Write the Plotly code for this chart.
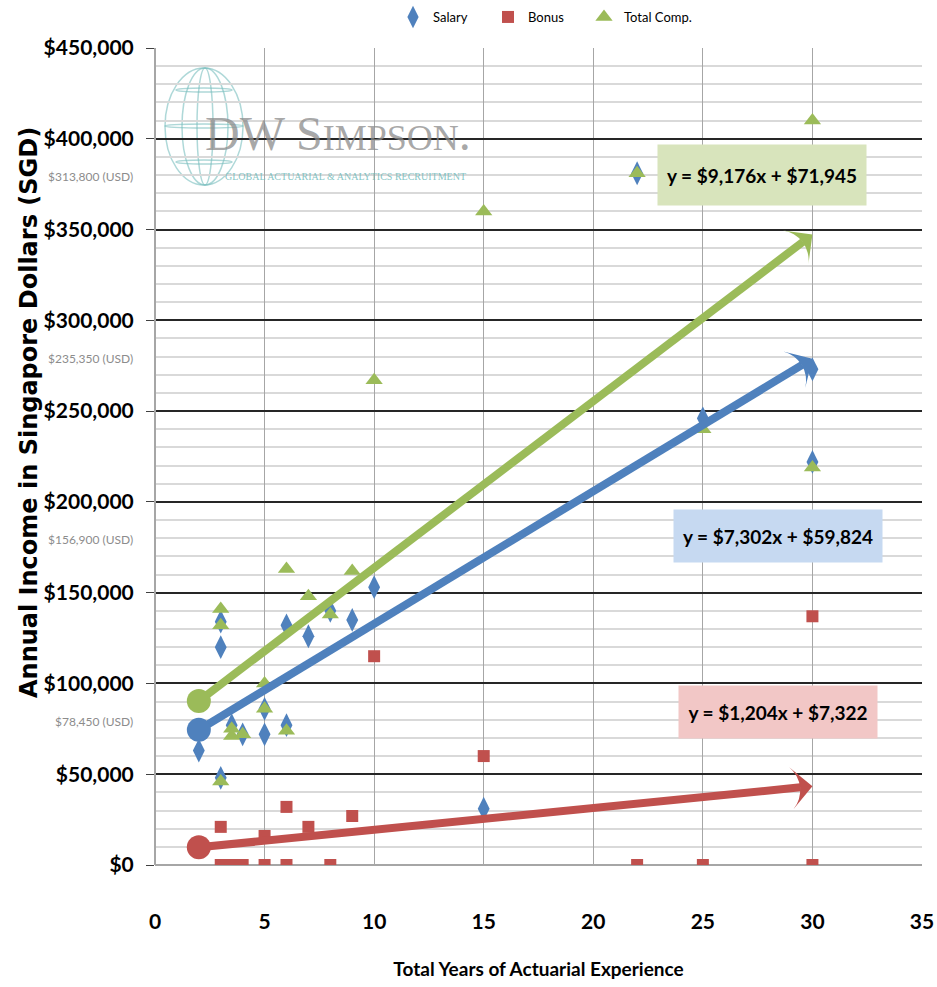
import plotly.graph_objects as go

# --- data ---
salary_x = [2, 3, 3, 3, 3.5, 4, 5, 5, 6, 6, 7, 8, 9, 10, 15, 22, 25, 30, 30]
salary_y = [63000, 134000, 120000, 48000, 77000, 72000, 72000, 86000, 132000, 77000,
            126000, 140000, 135000, 153000, 31000, 381000, 246000, 273000, 222000]

bonus_x = [3, 3, 3.5, 4, 5, 5, 6, 6, 7, 8, 9, 10, 15, 22, 25, 30, 30]
bonus_y = [21000, 0, 0, 0, 16000, 0, 32000, 0, 21000, 0, 27000, 115000, 60000,
           0, 0, 137000, 0]

total_x = [3, 3, 3, 3.5, 3.5, 4, 5, 5, 6, 6, 7, 8, 9, 10, 15, 22, 25, 30, 30]
total_y = [141000, 132000, 46000, 75000, 71000, 72000, 100000, 86000, 163000, 74000,
           148000, 138000, 162000, 267000, 360000, 381000, 240000, 410000, 219000]

# linear trend lines (slope, intercept) as printed on the chart
trend_slope = [7302, 1204, 9176]
trend_intercept = [59824, 7322, 71945]
trend_span = [2, 30]

usd_ticks = [400000, 300000, 200000, 100000]
usd_labels = ['$313,800 (USD)', '$235,350 (USD)', '$156,900 (USD)', '$78,450 (USD)']

BLUE = '#4F81BD'
RED = '#C0504D'
GREEN = '#9BBB59'
FONT = 'Lato, Roboto, sans-serif'

W, H = 937, 987
L, R, T, B = 155, 15, 48, 122


def px_x(p):
    return (p - L) / (W - L - R)


def px_y(p):
    return (H - B - p) / (H - T - B)


fig = go.Figure()

fig.add_trace(go.Scatter(
    x=salary_x, y=salary_y, mode='markers', name='Salary', legend='legend',
    marker=dict(symbol='diamond-tall', size=17, color=BLUE),
))
fig.add_trace(go.Scatter(
    x=bonus_x, y=bonus_y, mode='markers', name='Bonus', legend='legend2',
    marker=dict(symbol='square', size=12, color=RED),
))
fig.add_trace(go.Scatter(
    x=total_x, y=total_y, mode='markers', name='Total Comp.', legend='legend3',
    marker=dict(symbol='triangle-up', size=15, color=GREEN),
))

# trend arrows: dot at the start, arrow head at the end
for color, m, c in zip([BLUE, RED, GREEN], trend_slope, trend_intercept):
    ys = [m * x + c for x in trend_span]
    fig.add_trace(go.Scatter(
        x=trend_span, y=ys, mode='lines+markers', showlegend=False,
        hoverinfo='skip',
        line=dict(color=color, width=8),
        marker=dict(symbol='arrow-wide', size=[0, 30], color=color, opacity=1,
                    line=dict(width=0), angleref='previous'),
    ))
    fig.add_trace(go.Scatter(
        x=trend_span[:1], y=ys[:1], mode='markers', showlegend=False,
        hoverinfo='skip',
        marker=dict(symbol='circle', size=24, color=color),
    ))

# equation boxes
eq_pos = [(28.45, 181000, 200, 44, '#C6D9F1'),
          (28.45, 84000, 190, 44, '#F2C7C6'),
          (27.7, 380000, 200, 52, '#D8E4BC')]
for (ex, ey, bw, bh, bg), m, c in zip(eq_pos, trend_slope, trend_intercept):
    fig.add_annotation(
        x=ex, y=ey, xref='x', yref='y', showarrow=False,
        width=bw, height=bh, align='center', valign='middle',
        text=f'y = ${m:,}x + ${c:,}', bgcolor=bg, borderpad=4,
        font=dict(family=FONT, size=19, color='black', weight='bold'),
    )

# USD equivalents under some of the tick labels
for v, lab in zip(usd_ticks, usd_labels):
    fig.add_annotation(
        x=0, y=v, xref='paper', yref='y', xanchor='right', yanchor='middle',
        xshift=-20, yshift=-38, showarrow=False, text=lab,
        font=dict(family=FONT, size=12, color='#8C8C8C'),
    )

# y axis title
fig.add_annotation(
    x=px_x(29), y=px_y(413), xref='paper', yref='paper', showarrow=False,
    xanchor='center', yanchor='middle',
    textangle=-90, text='Annual Income in Singapore Dollars (SGD)',
    font=dict(family='DejaVu Sans', size=24, color='black', weight='bold'),
)

# DW Simpson watermark
fig.add_annotation(
    x=px_x(338), y=px_y(162), xref='paper', yref='paper', showarrow=False,
    xanchor='center', yanchor='bottom',
    text="DW S<span style='font-size:36px'>IMPSON</span>.",
    font=dict(family='Liberation Serif, DejaVu Serif, serif', size=48,
              color='rgba(140,140,140,0.75)'),
)
fig.add_annotation(
    x=px_x(345), y=px_y(176), xref='paper', yref='paper', showarrow=False,
    xanchor='center', yanchor='middle',
    text='GLOBAL ACTUARIAL &amp; ANALYTICS RECRUITMENT',
    font=dict(family='Liberation Serif, DejaVu Serif, serif', size=10,
              color='rgba(110,185,185,0.85)'),
)
globe = dict(color='rgba(120,190,190,0.6)', width=1.5)
for x0, x1 in [(165, 243), (182, 228), (197, 213)]:
    fig.add_shape(type='circle', xref='paper', yref='paper', layer='below',
                  x0=px_x(x0), x1=px_x(x1), y0=px_y(185), y1=px_y(68), line=globe)
for y0, y1, x0, x1 in [(88, 92, 176, 232), (124, 128, 165, 243), (160, 164, 176, 232)]:
    fig.add_shape(type='circle', xref='paper', yref='paper', layer='below',
                  x0=px_x(x0), x1=px_x(x1), y0=px_y(y1), y1=px_y(y0), line=globe)

leg_font = dict(family=FONT, size=13, color='black')
leg = dict(orientation='h', y=px_y(17), xanchor='left', yanchor='middle', font=leg_font)

fig.update_layout(
    width=W, height=H,
    margin=dict(l=L, r=R, t=T, b=B, autoexpand=False),
    plot_bgcolor='white', paper_bgcolor='white',
    legend=dict(leg, x=px_x(393)),
    legend2=dict(leg, x=px_x(488)),
    legend3=dict(leg, x=px_x(584)),
    xaxis=dict(
        range=[0, 35], dtick=5, tick0=0, automargin=False,
        showgrid=True, gridcolor='#A6A6A6', gridwidth=1,
        zeroline=True, zerolinecolor='#A6A6A6', zerolinewidth=2,
        showline=False, ticks='', ticklabelstandoff=42,
        tickfont=dict(family=FONT, size=21, color='black', weight='bold'),
        title=dict(text='Total Years of Actuarial Experience', standoff=30,
                   font=dict(family=FONT, size=19, color='black', weight='bold')),
    ),
    yaxis=dict(
        range=[0, 450000], dtick=50000, tick0=0, automargin=False,
        tickprefix='$', tickformat=',d',
        showgrid=True, gridcolor='#262626', gridwidth=2,
        minor=dict(dtick=10000, showgrid=True, gridcolor='#D9D9D9', gridwidth=2),
        zeroline=True, zerolinecolor='#A6A6A6', zerolinewidth=2,
        ticks='outside', ticklen=8, tickcolor='#404040', ticklabelstandoff=8,
        tickfont=dict(family=FONT, size=21, color='black', weight='bold'),
    ),
)

# the page body has a default 8px margin; drop it so the figure sits at 0,0
fig.write_html('out.html', config={'displayModeBar': False},
               post_script="document.body.style.margin = '0';")
